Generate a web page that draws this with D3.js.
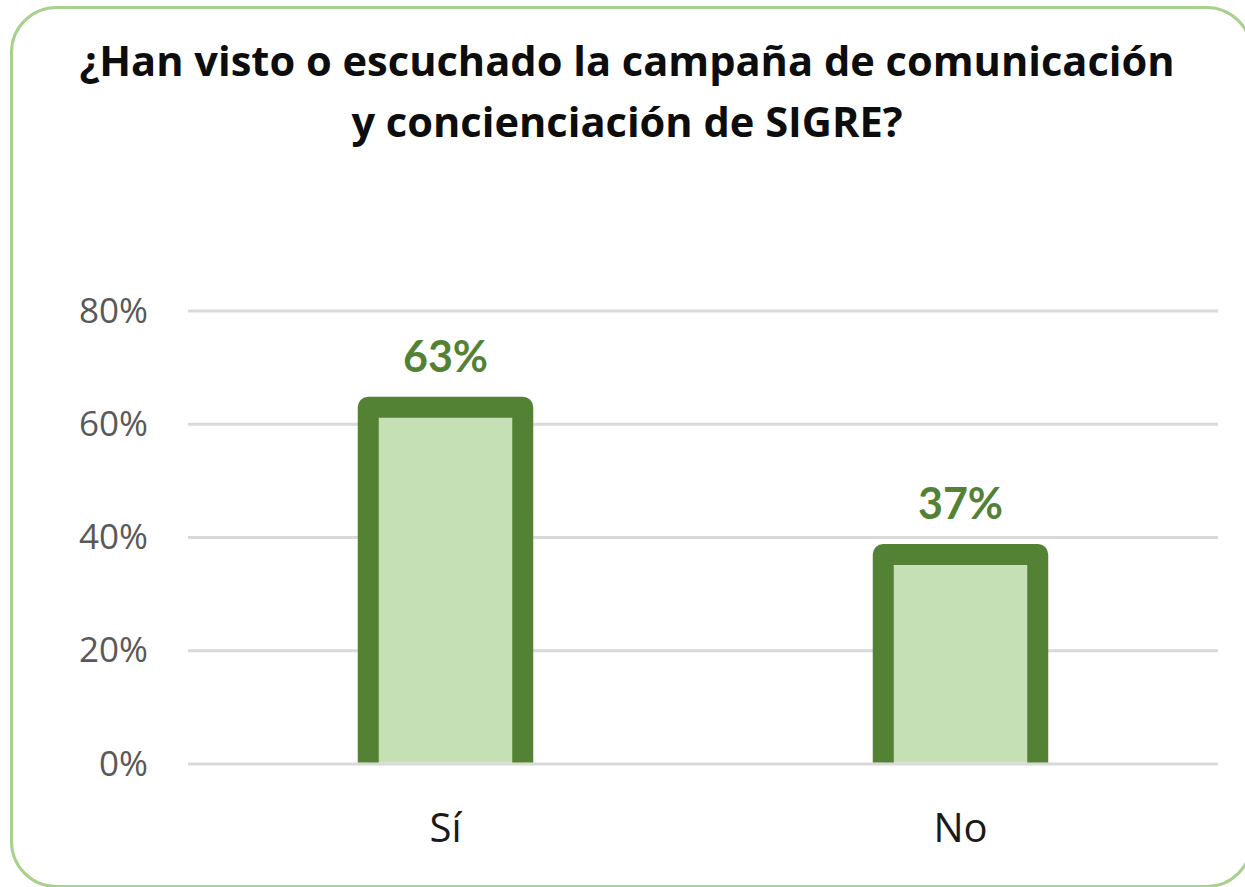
<!DOCTYPE html>
<html>
<head>
<meta charset="utf-8">
<script src="https://cdn.jsdelivr.net/npm/d3@7"></script>
<style>
  html, body { margin: 0; padding: 0; background: #ffffff; }
  svg { display: block; }
</style>
</head>
<body>
<svg id="chart" width="1245" height="887"></svg>
<script>
const titleLines = ["¿Han visto o escuchado la campaña de comunicación", "y concienciación de SIGRE?"];
const categories = ["Sí", "No"];
const values = [0.63, 0.37];
const yTicks = [0, 0.2, 0.4, 0.6, 0.8];

const W = 1245, H = 887;
const margin = { left: 188, right: 27, top: 311, bottom: 123 };
const svg = d3.select("#chart");

// outer rounded border
svg.append("rect")
  .attr("x", 11.5).attr("y", 7.5)
  .attr("width", 1240).attr("height", 879)
  .attr("rx", 45).attr("ry", 45)
  .attr("fill", "#ffffff")
  .attr("stroke", "#a9d18e").attr("stroke-width", 3);

// title
svg.append("text")
  .attr("x", 627).attr("y", 76)
  .attr("text-anchor", "middle")
  .attr("font-family", "'Open Sans', sans-serif").attr("font-weight", "bold")
  .attr("font-size", 41.6).attr("fill", "#0d0d0d")
  .selectAll("tspan").data(titleLines).join("tspan")
  .attr("x", 627).attr("dy", (d, i) => i === 0 ? 0 : 61)
  .text(d => d);

const x = d3.scaleBand().domain(categories)
  .range([margin.left, W - margin.right])
  .paddingInner(0.7).paddingOuter(0.35);
const y = d3.scaleLinear().domain([0, 0.8]).range([H - margin.bottom, margin.top]);

// gridlines
svg.append("g").selectAll("line").data(yTicks).join("line")
  .attr("x1", margin.left).attr("x2", W - margin.right)
  .attr("y1", d => y(d)).attr("y2", d => y(d))
  .attr("stroke", "#d9d9d9").attr("stroke-width", 3);

// y axis labels
const yAxis = d3.axisLeft(y).tickValues(yTicks).tickFormat(d3.format(".0%")).tickSize(0).tickPadding(40);
const gy = svg.append("g").attr("transform", `translate(${margin.left},0)`).call(yAxis);
gy.select(".domain").remove();
gy.selectAll("text")
  .attr("font-family", "'Open Sans', sans-serif")
  .attr("font-size", 35).attr("fill", "#595959");

// clip bars at axis
svg.append("clipPath").attr("id", "plotclip")
  .append("rect").attr("x", 0).attr("y", 0).attr("width", W).attr("height", y(0) - 1.5);

const data = categories.map((c, i) => ({ c, v: values[i] }));
svg.append("g").attr("clip-path", "url(#plotclip)")
  .selectAll("rect").data(data).join("rect")
  .attr("x", d => x(d.c))
  .attr("width", x.bandwidth())
  .attr("y", d => y(d.v))
  .attr("height", d => y(0) - y(d.v) + 10)
  .attr("fill", "#c5e0b4")
  .attr("stroke", "#548235").attr("stroke-width", 21)
  .attr("stroke-linejoin", "round");

// value labels
svg.append("g").selectAll("text").data(data).join("text")
  .attr("x", d => x(d.c) + x.bandwidth() / 2)
  .attr("y", d => y(d.v) - 35)
  .attr("text-anchor", "middle")
  .attr("font-family", "Lato, 'Open Sans', sans-serif").attr("font-weight", "bold")
  .attr("font-size", 43).attr("fill", "#548235")
  .text(d => d3.format(".0%")(d.v));

// x axis labels
const xAxis = d3.axisBottom(x).tickSize(0).tickPadding(50);
const gx = svg.append("g").attr("transform", `translate(0,${y(0)})`).call(xAxis);
gx.select(".domain").remove();
gx.selectAll("text")
  .attr("font-family", "'Open Sans', sans-serif")
  .attr("font-size", 40).attr("fill", "#1a1a1a");
</script>
</body>
</html>
